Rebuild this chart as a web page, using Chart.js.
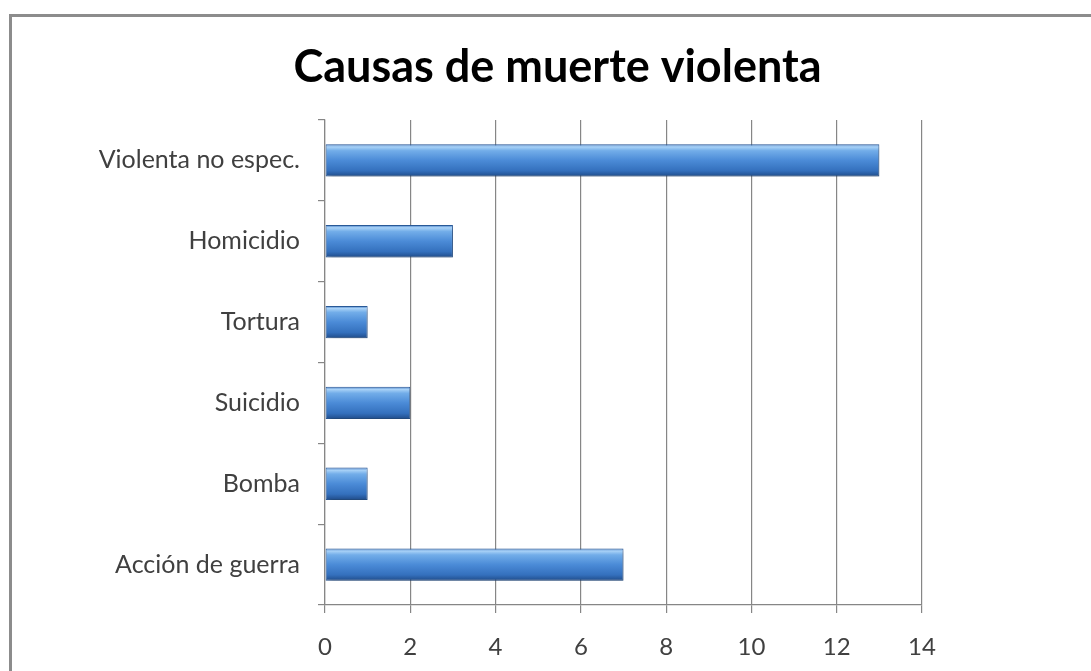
<!DOCTYPE html>
<html>
<head>
<meta charset="utf-8">
<script src="https://cdn.jsdelivr.net/npm/chart.js@4"></script>
<style>
    body { margin: 0; background: #fff; overflow: hidden; }
    .wrap { position: relative; width: 1091px; height: 671px; }
    .frame {
        position: absolute; left: 9px; top: 14px; right: -20px; bottom: -20px;
        border-left: 3px solid #8c8c8c; border-top: 3px solid #8c8c8c;
        pointer-events: none;
    }
    canvas { position: absolute; left: 0; top: 0; }
</style>
</head>
<body>
<div class="wrap">
    <canvas id="chart" width="1091" height="671"></canvas>
    <div class="frame"></div>
</div>
<script>
const titleText = 'Causas de muerte violenta';
const categories = ['Violenta no espec.', 'Homicidio', 'Tortura', 'Suicidio', 'Bomba', 'Acción de guerra'];
const deaths = [13, 3, 1, 2, 1, 7];
const xTicks = [0, 2, 4, 6, 8, 10, 12, 14];

const gridColor = '#868686';
const labelColor = '#404040';

/**
 * Vertical gradient for one bar, so it looks like the rounded office-style bar
 */
const barGradient = (context) => {
    const chart = context.chart;
    const yScale = chart.scales.y;
    if (!chart.chartArea || !yScale) {
        return '#4a86d0';
    }
    const center = yScale.getPixelForValue(context.dataIndex);
    const half = (yScale.height / categories.length) * 0.4 / 2;
    const g = chart.ctx.createLinearGradient(0, center - half, 0, center + half);
    g.addColorStop(0, '#3f78c4');
    g.addColorStop(0.08, '#a9d2f7');
    g.addColorStop(0.2, '#72ade9');
    g.addColorStop(0.5, '#4b8bd7');
    g.addColorStop(0.82, '#3470bd');
    g.addColorStop(1, '#1f4b88');
    return g;
};

// soft shadow under the bars
const barShadow = {
    id: 'barShadow',
    beforeDatasetsDraw(chart) {
        const ctx = chart.ctx;
        ctx.save();
        ctx.shadowColor = 'rgba(0,0,0,0.25)';
        ctx.shadowBlur = 5;
        ctx.shadowOffsetX = 2;
        ctx.shadowOffsetY = 3;
    },
    afterDatasetsDraw(chart) {
        chart.ctx.restore();
    }
};

new Chart(document.getElementById('chart'), {
    type: 'bar',
    data: {
        labels: categories,
        datasets: [{
            label: titleText,
            data: deaths,
            backgroundColor: barGradient,
            borderColor: '#2a5a98',
            borderWidth: 1,
            borderSkipped: false,
            barPercentage: 0.4,
            categoryPercentage: 1
        }]
    },
    options: {
        indexAxis: 'y',
        responsive: false,
        animation: false,
        layout: { padding: { left: 24, right: 0, top: 0, bottom: 9 } },
        plugins: {
            legend: { display: false },
            tooltip: { enabled: false },
            title: {
                display: true,
                text: titleText,
                color: '#000',
                font: { family: 'Lato', size: 45, weight: 'bold' },
                padding: { top: 40, bottom: 26 }
            }
        },
        scales: {
            x: {
                min: 0,
                max: 14,
                afterBuildTicks: (s) => { s.ticks = xTicks.map(v => ({ value: v })); },
                afterFit: (s) => { s.paddingRight = 169; s.height = 57; },
                grid: { color: gridColor, tickLength: 8, lineWidth: 1.2 },
                border: { color: gridColor, width: 1.2 },
                ticks: {
                    color: labelColor,
                    padding: 20,
                    font: { family: 'Lato', size: 24 }
                }
            },
            y: {
                afterFit: (s) => { s.width = 301; },
                grid: { drawOnChartArea: false, color: gridColor, tickLength: 7, lineWidth: 1.2 },
                border: { color: gridColor, width: 1.2 },
                ticks: {
                    color: labelColor,
                    padding: 18,
                    font: { family: 'Lato', size: 25 }
                }
            }
        }
    },
    plugins: [barShadow]
});
</script>
</body>
</html>
